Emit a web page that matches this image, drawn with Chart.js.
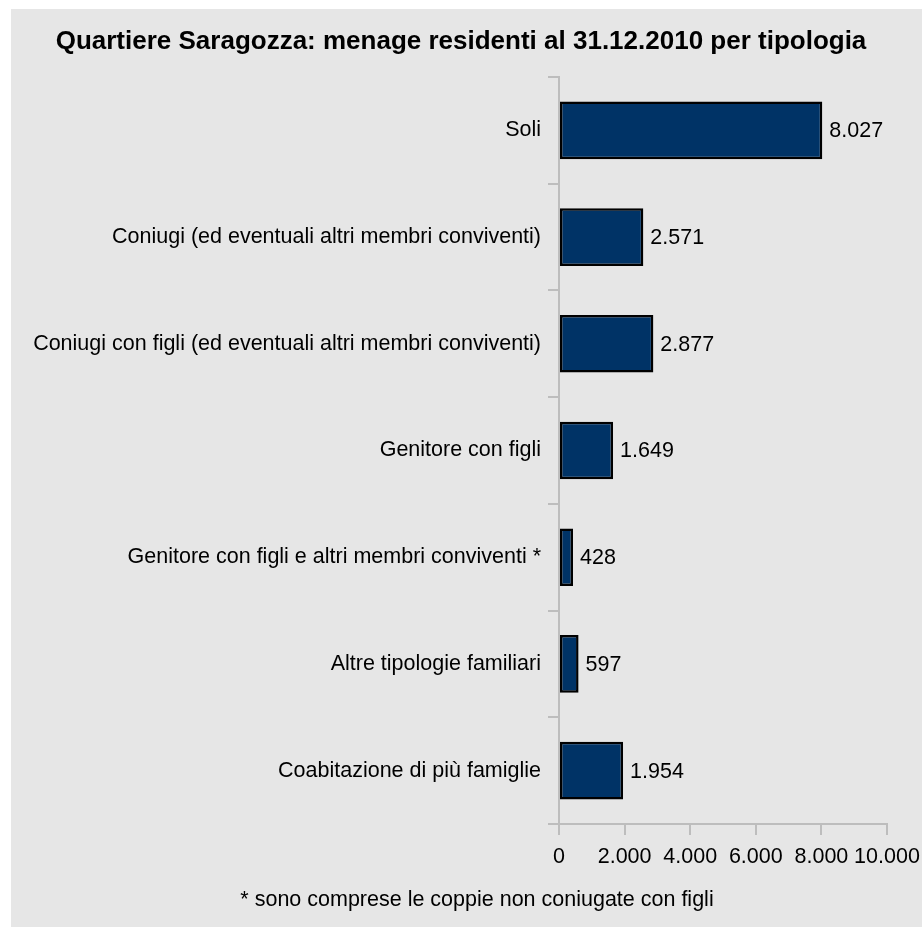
<!DOCTYPE html>
<html>
<head>
<meta charset="utf-8">
<script src="https://cdn.jsdelivr.net/npm/chart.js@4.4.1/dist/chart.umd.min.js"></script>
<style>
  html, body { margin: 0; padding: 0; background: #ffffff; }
  #panel { position: absolute; left: 11px; top: 9px; width: 911px; height: 918px; background: #e6e6e6; }
  #chart { display: block; }
</style>
</head>
<body>
<div id="panel"><canvas id="chart" width="911" height="918"></canvas></div>
<script>
const categories = [
  "Soli",
  "Coniugi (ed eventuali altri membri conviventi)",
  "Coniugi con figli (ed eventuali altri membri conviventi)",
  "Genitore con figli",
  "Genitore con figli e altri membri conviventi *",
  "Altre tipologie familiari",
  "Coabitazione di più famiglie"
];
const menage = [8027, 2571, 2877, 1649, 428, 597, 1954];
const xTicks = [0, 2000, 4000, 6000, 8000, 10000];

const titleText = "Quartiere Saragozza: menage residenti al 31.12.2010 per tipologia";
const noteText = "* sono comprese le coppie non coniugate con figli";

function fmt(n) {
  // punto come separatore delle migliaia
  return String(n).replace(/\B(?=(\d{3})+(?!\d))/g, ".");
}

const FONT = "'Liberation Sans', Arial, sans-serif";
const FS = 21.5;
const axisGrey = "#bdbdbd";

// titolo, nota e etichette dei valori
const extraText = {
  id: "extraText",
  afterDatasetsDraw(chart) {
    const ctx = chart.ctx;
    ctx.save();
    ctx.fillStyle = "#000";
    ctx.textBaseline = "middle";
    ctx.font = FS + "px " + FONT;
    const meta = chart.getDatasetMeta(0);
    meta.data.forEach(function (bar, i) {
      ctx.textAlign = "left";
      ctx.fillText(fmt(menage[i]), bar.x + 7, bar.y + 1);
    });
    ctx.font = "bold 26px " + FONT;
    ctx.textAlign = "center";
    ctx.fillText(titleText, 450, 33);
    ctx.font = FS + "px " + FONT;
    ctx.fillText(noteText, 466, 891);
    ctx.restore();
  }
};

const ctx = document.getElementById("chart").getContext("2d");
new Chart(ctx, {
  type: "bar",
  data: {
    labels: categories,
    datasets: [{
      data: menage,
      backgroundColor: "#003366",
      borderColor: "#000000",
      borderWidth: 2.5,
      borderSkipped: false,
      barPercentage: 0.54,
      categoryPercentage: 1
    }]
  },
  options: {
    indexAxis: "y",
    responsive: false,
    animation: false,
    layout: { padding: { top: 68, right: 35, bottom: 0, left: 0 } },
    plugins: {
      legend: { display: false },
      title: { display: false },
      tooltip: { enabled: false }
    },
    scales: {
      x: {
        min: 0,
        max: 10000,
        afterBuildTicks: function (s) { s.ticks = xTicks.map(v => ({ value: v })); },
        afterFit: function (s) { s.height = 103; s.paddingRight = 0; s.paddingLeft = 0; },
        ticks: {
          color: "#000",
          font: { family: FONT, size: FS },
          padding: 9,
          maxRotation: 0,
          autoSkip: false,
          callback: v => fmt(v)
        },
        grid: { drawOnChartArea: false, tickLength: 11, color: axisGrey, lineWidth: 2 },
        border: { color: axisGrey, width: 2 }
      },
      y: {
        afterFit: function (s) { s.width = 548; },
        ticks: {
          color: "#000",
          font: { family: FONT, size: FS },
          padding: 7
        },
        grid: { drawOnChartArea: false, tickLength: 11, color: axisGrey, lineWidth: 2 },
        border: { color: axisGrey, width: 2 }
      }
    }
  },
  plugins: [extraText]
});
</script>
</body>
</html>
